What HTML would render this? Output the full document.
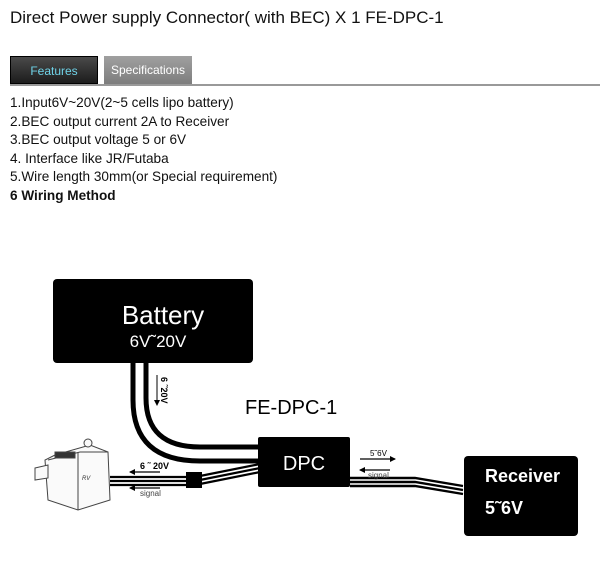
<!DOCTYPE html>
<html><head><style>
body{margin:0;width:600px;height:564px;background:#fff;font-family:"Liberation Sans",sans-serif;overflow:hidden;position:relative}
.t{position:absolute;left:10px;top:8px;font-size:17px;color:#111}
.tab{position:absolute;top:56px;height:28px;line-height:28px;font-size:12px;text-align:center}
.list{position:absolute;left:10px;top:94px;font-size:13.6px;line-height:18.5px;color:#111}
</style></head><body>
<div class="t">Direct Power supply Connector( with BEC) X 1 FE-DPC-1</div>
<div class="tab" style="left:10px;width:88px;background:linear-gradient(#4a4a4a,#1c1c1c);color:#6fd3e8;border:1px solid #000;box-sizing:border-box">Features</div>
<div class="tab" style="left:104px;width:88px;background:linear-gradient(#a0a0a0,#7d7d7d);color:#fff">Specifications</div>
<div style="position:absolute;left:10px;top:84px;width:590px;height:2px;background:#999"></div>
<div class="list">1.Input6V~20V(2~5 cells lipo battery)<br>2.BEC output current 2A to Receiver<br>3.BEC output voltage 5 or 6V<br>4. Interface like JR/Futaba<br>5.Wire length 30mm(or Special requirement)<br><b>6 Wiring Method</b></div>
<svg width="600" height="564" style="position:absolute;left:0;top:0" font-family="Liberation Sans, sans-serif">
<rect x="53" y="279" width="200" height="84" rx="4" fill="#000"/>
<text x="163" y="324" font-size="26" fill="#fff" text-anchor="middle">Battery</text>
<text x="158" y="347" font-size="17" fill="#fff" text-anchor="middle">6V˜20V</text>
<g fill="none" stroke="#000">
<path d="M133 362 V400 Q133 461 200 461 H260" stroke-width="5"/>
<path d="M146 362 V398 Q146 447 200 447 H260" stroke-width="5"/>
<path d="M110 477 H188 M110 481 H188 M110 485 H188" stroke-width="2.2"/>
<path d="M200 476 L260 464 M200 480 L260 468 M200 484 L260 472" stroke-width="2.2"/>
<path d="M350 478 H415 L463 486 M350 482 H415 L463 490 M350 486 H415 L463 494" stroke-width="2.4"/>
<path d="M157 375 V405" stroke-width="1"/>
<path d="M130 472 H160 M130 488 H160 M360 459 H395 M360 470 H390" stroke-width="1.2"/>
</g>
<path d="M154 400 L157 406 L160 400Z M129 472 L135 469 L135 475Z M129 488 L135 485 L135 491Z M396 459 L390 456 L390 462Z M359 470 L365 467 L365 473Z"/>
<rect x="186" y="472" width="16" height="16" fill="#000"/>
<text transform="translate(161,377) rotate(90)" font-size="9" font-weight="bold">6 ˜20V</text>
<text x="245" y="414" font-size="20">FE-DPC-1</text>
<rect x="258" y="437" width="92" height="50" rx="2" fill="#000"/>
<text x="304" y="470" font-size="20" fill="#fff" text-anchor="middle">DPC</text>
<rect x="464" y="456" width="114" height="80" rx="4" fill="#000"/>
<text x="485" y="482" font-size="18" font-weight="bold" fill="#fff">Receiver</text>
<text x="485" y="514" font-size="18" font-weight="bold" fill="#fff">5˜6V</text>
<text x="370" y="456" font-size="8">5˜6V</text>
<text x="368" y="478" font-size="8" fill="#444">signal</text>
<text x="140" y="469" font-size="9" font-weight="bold">6 ˜ 20V</text>
<text x="140" y="496" font-size="8" fill="#444">signal</text>
<g stroke="#444" stroke-width="1" fill="#fafafa">
<path d="M55 455 L90 445 L108 452 L110 500 L78 510 L48 500 L45 460Z"/>
<path d="M48 460 L80 452 L108 452"/>
<path d="M78 452 L78 510"/>
<rect x="55" y="452" width="20" height="6" fill="#333"/>
<circle cx="88" cy="443" r="4"/>
<path d="M35 468 L48 465 L48 478 L35 480Z"/>
</g>
<text x="82" y="480" font-size="6" font-style="italic" fill="#333">RV</text>
</svg>
</body></html>
